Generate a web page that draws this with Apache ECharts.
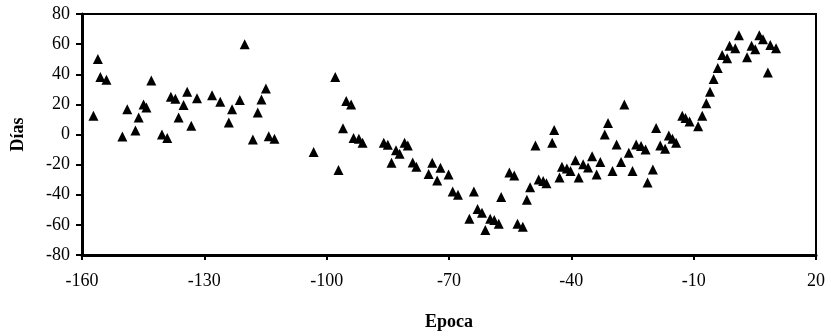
<!DOCTYPE html>
<html>
<head>
<meta charset="utf-8">
<script src="https://cdn.jsdelivr.net/npm/echarts@6/dist/echarts.min.js"></script>
<style>
  html, body { margin: 0; padding: 0; background: #fff; }
  #chart { width: 831px; height: 336px; }
</style>
</head>
<body>
<div id="chart"></div>
<script>
// Epoca (x) and Días (y)
const epoca = [
  -157.2, -156.1, -155.5, -154.0, -150.1, -148.9, -146.9, -146.1, -144.9, -144.2,
  -143.0, -140.4, -139.1, -138.2, -137.1, -136.3, -135.1, -134.2, -133.2, -131.8,
  -128.1, -126.1, -124.0, -123.2, -121.3, -120.1, -118.1, -116.9, -116.0, -114.9,
  -114.2, -112.8, -103.2, -97.9, -97.1, -96.0, -95.2, -94.0, -93.4, -92.1,
  -91.2, -86.0, -85.0, -84.1, -83.0, -82.1, -80.9, -80.1, -78.9, -78.0,
  -75.0, -74.1, -72.9, -72.1, -70.1, -69.1, -67.8, -65.0, -63.9, -63.0,
  -61.9, -61.1, -59.9, -58.9, -57.8, -57.2, -55.2, -54.0, -53.2, -51.9,
  -50.9, -50.1, -48.8, -48.0, -46.9, -46.1, -44.7, -44.2, -42.9, -42.3,
  -41.1, -40.2, -39.0, -38.2, -37.1, -35.9, -34.9, -33.8, -32.9, -31.8,
  -31.0, -29.9, -28.9, -27.8, -27.0, -25.9, -25.0, -24.1, -22.9, -21.8,
  -21.3, -20.0, -19.2, -18.2, -17.0, -16.1, -15.2, -14.3, -12.8, -12.0,
  -11.0, -8.9, -7.9, -6.9, -6.0, -5.1, -4.1, -3.0, -1.8, -1.2,
  0.2, 1.1, 3.1, 4.2, 5.1, 6.1, 7.0, 8.2, 8.8, 10.2
];
const dias = [
  12.4, 50.2, 38.2, 36.4, -1.4, 16.8, 2.6, 11.3, 20.0, 17.9,
  35.8, 0.0, -2.4, 25.1, 23.8, 11.3, 19.6, 28.4, 5.8, 24.0,
  26.1, 21.8, 8.0, 16.8, 22.9, 60.0, -3.3, 14.6, 23.3, 30.5,
  -1.1, -2.9, -11.6, 38.2, -23.6, 4.1, 22.2, 20.0, -2.4, -2.9,
  -5.5, -5.5, -6.8, -18.8, -10.5, -12.7, -5.5, -7.3, -18.6, -21.4,
  -26.3, -18.8, -30.6, -22.1, -26.5, -37.8, -40.0, -56.0, -37.8, -49.4,
  -52.0, -63.4, -56.0, -56.8, -59.2, -41.5, -25.2, -27.3, -59.2, -61.2,
  -43.3, -35.0, -7.3, -29.8, -30.9, -32.4, -5.5, 3.0, -28.6, -21.4,
  -22.5, -24.3, -17.1, -28.6, -19.7, -21.9, -14.5, -26.5, -18.2, 0.0,
  7.6, -24.3, -6.6, -18.2, 20.0, -12.1, -24.3, -6.6, -7.7, -9.9,
  -31.9, -23.2, 4.3, -7.3, -9.4, -0.7, -2.9, -5.5, 12.4, 10.9,
  8.7, 5.4, 12.4, 20.7, 28.4, 36.9, 44.1, 52.8, 50.7, 58.9,
  57.2, 65.9, 51.3, 58.9, 56.6, 65.9, 63.3, 41.2, 59.4, 57.2
];

const fontFamily = '"Liberation Serif", "Times New Roman", serif';
const chart = echarts.init(document.getElementById("chart"));
const points = epoca.map((x, i) => [x, dias[i]]);

const option = {
  animation: false,
  grid: {
    left: 82, right: 15, top: 14, bottom: 78,
    show: true, borderColor: "#000", borderWidth: 2,
  },
  xAxis: {
    type: "value",
    min: -160, max: 20, interval: 30,
    name: "Epoca",
    nameLocation: "middle",
    nameGap: 58,
    nameTextStyle: { fontFamily, fontSize: 18, fontWeight: "bold", color: "#000" },
    axisLine: { onZero: false, lineStyle: { color: "#000", width: 3 } },
    axisTick: { length: 5, lineStyle: { color: "#000", width: 2 } },
    axisLabel: { fontFamily, fontSize: 18, color: "#000", margin: 17 },
    splitLine: { show: false },
  },
  yAxis: {
    type: "value",
    min: -80, max: 80, interval: 20,
    name: "Días",
    nameLocation: "middle",
    nameGap: 55,
    nameTextStyle: { fontFamily, fontSize: 18, fontWeight: "bold", color: "#000" },
    axisLine: { onZero: false, lineStyle: { color: "#000", width: 3 } },
    axisTick: { length: 6, lineStyle: { color: "#000", width: 2 } },
    axisLabel: { fontFamily, fontSize: 18, color: "#000", margin: 12 },
    splitLine: { show: false },
  },
  series: [
    {
      type: "scatter",
      symbol: "triangle",
      symbolSize: [10, 10],
      itemStyle: { color: "#000", opacity: 1 },
      data: points,
    },
  ],
};
chart.setOption(option);
</script>
</body>
</html>
